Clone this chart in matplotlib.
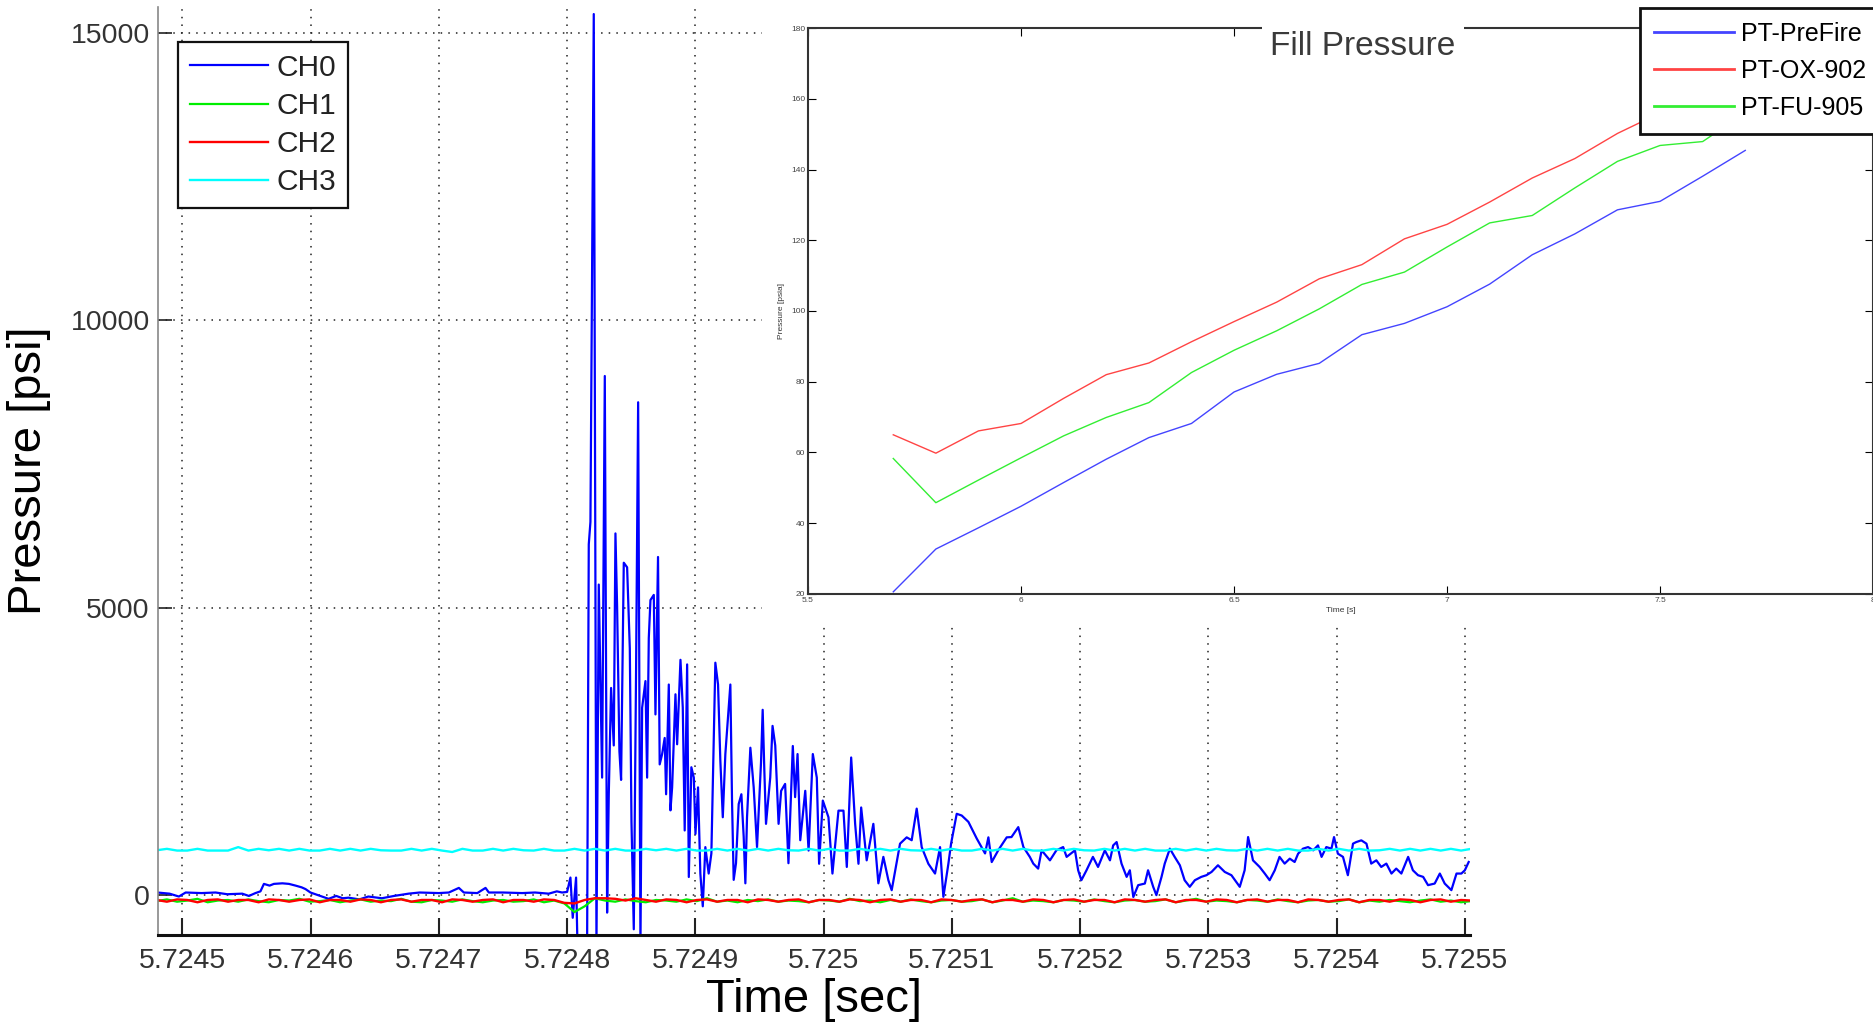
import matplotlib
matplotlib.use("Agg")
import matplotlib.pyplot as plt
from matplotlib.patches import Rectangle
import numpy as np

plt.rcParams['font.family'] = ['Liberation Sans', 'DejaVu Sans']

# ---- main plot: pressure transducer channels around the event ----
t_burst = 5.7248  # seconds, reference for the CH0 offsets below

# CH0 (microseconds after t_burst, psi)
ch0_samples = [
    (-325, 30), (-319.5, 40), (-310, 20), (-302.7, -30), (-297.4, 40), (-285, 30), (-274.1, 40),
    (-265, 10), (-253.3, 20), (-248.1, -20), (-243, 30), (-239.1, 60), (-236.4, 190), (-232, 160),
    (-228.6, 190), (-222, 200), (-216.9, 190), (-211.7, 160), (-207, 130), (-204.0, 100),
    (-200.1, 40), (-195, 0), (-186.0, -70), (-180, -20), (-175, -60), (-170.4, -50), (-162, -80),
    (-155, -30), (-144.4, -60), (-135, -20), (-123.6, 20), (-115, 40), (-100, 30), (-92.2, 40),
    (-84.4, 120), (-80.5, 40), (-70, 30), (-63.6, 120), (-61.0, 40), (-50, 40), (-35, 30),
    (-25, 40), (-14.3, 20), (-8, 60), (-3.9, 40),
    (0, 50), (2.6, 300), (4.4, -400), (7.0, 300), (8.1, -900), (15.6, -900), (16.9, 6100),
    (18.2, 6490), (19.5, 10960), (20.8, 15330), (22.9, -900), (24.7, 5400), (27.3, 2040),
    (29.4, 9030), (31.2, -310), (32.5, 1750), (34.3, 3600), (36.4, 2600), (37.7, 6290),
    (39.0, 5020), (40.8, 2500), (42.1, 2000), (44.2, 5780), (46.8, 5700), (48.9, 4290),
    (50.2, 1270), (52.0, -600), (53.8, 3950), (55.4, 8573), (57.2, -900), (58.5, 3255),
    (61.1, 3720), (62.4, 2040), (63.7, 4470), (65.0, 5130), (67.6, 5220), (68.9, 3140),
    (70.9, 5880), (72.2, 2270), (74.1, 2450), (76.1, 2730), (77.2, 1750), (79.3, 3660),
    (80.6, 1470), (81.9, 1870), (84.5, 3490), (85.8, 2620), (88.4, 4090), (90.2, 3260),
    (91.7, 1120), (93.6, 4010), (94.9, 310), (96.9, 2220), (98.8, 2040), (100.1, 1060),
    (102.1, 1870), (103.9, 370), (105.8, -200), (107.8, 830), (110.4, 370), (112.5, 720),
    (114.3, 2620), (115.6, 4040), (117.7, 3660), (119.5, 2330), (121.4, 1350), (123.4, 2450),
    (126.0, 3260), (127.3, 3660), (128.6, 1640), (129.9, 260), (131.7, 550), (133.8, 1580),
    (135.9, 1750), (137.7, 1010), (139.0, 200), (140.3, 1350), (142.9, 2560), (145.5, 1870),
    (148.1, 830), (151.2, 2300), (152.5, 3220), (153.8, 2160), (155.1, 1235), (158.4, 2040),
    (160.2, 2940), (162.3, 2600), (164.9, 1235), (166.9, 1810), (170.0, 1930), (172.6, 550),
    (176.0, 2590), (177.8, 1700), (179.7, 2450), (181.8, 950), (185.7, 1810), (188.3, 770),
    (191.6, 2450), (194.7, 2040), (196.5, 540), (199.4, 1640), (203.8, 1350), (206.9, 370),
    (211.6, 1465), (215.5, 1465), (218.1, 485), (221.5, 2390), (224.6, 1235), (227.2, 540),
    (229.3, 1520), (233.6, 600), (238.8, 1235), (242.7, 200), (246.6, 660), (250.5, 255),
    (253.1, 80), (259.6, 890), (264.8, 1000), (268.7, 950), (272.6, 1500), (276.5, 830),
    (281.7, 540), (286.9, 370), (290.8, 830), (293.4, -35), (297.3, 540), (299.4, 890),
    (303.8, 1410), (307.7, 1380), (312.9, 1270), (319.4, 980), (325.9, 720), (328.5, 1000),
    (331.1, 570), (336.3, 780), (342.8, 1000), (346.5, 1005), (351.8, 1178), (355.8, 831),
    (360.8, 660), (363.5, 543), (367.3, 456), (370.0, 774), (376.5, 600), (381.5, 774),
    (386.8, 831), (389.5, 660), (396.0, 774), (398.5, 427), (401.0, 254), (405.0, 427),
    (410.0, 660), (414.0, 485), (419.3, 774), (423.3, 600), (425.8, 860), (428.5, 918),
    (432.3, 543), (436.3, 312), (438.8, 427), (441.5, -38), (445.3, 168), (450.5, 196),
    (453.0, 427), (457.0, 139), (459.5, -6), (463.5, 312), (466.0, 543), (470.0, 803),
    (473.8, 658), (477.8, 514), (481.5, 254), (485.5, 139), (489.5, 254), (494.5, 312),
    (498.5, 341), (502.5, 398), (507.5, 514), (512.8, 398), (518.0, 341), (524.5, 139),
    (528.3, 427), (531.0, 1005), (534.8, 600), (540.0, 485), (544.0, 370), (547.8, 254),
    (551.8, 427), (555.5, 660), (559.5, 543), (563.5, 629), (567.3, 571), (570.0, 716),
    (573.8, 803), (577.8, 831), (581.8, 774), (585.5, 860), (588.3, 660), (592.0, 831),
    (596.0, 803), (598.0, 1005), (601.0, 716), (605.0, 660), (608.8, 341), (612.8, 890),
    (615.3, 918), (619.3, 948), (623.3, 890), (627.0, 543), (631.0, 600), (634.8, 485),
    (638.8, 543), (642.8, 370), (646.5, 456), (650.5, 370), (655.8, 660), (659.5, 427),
    (663.5, 341), (667.5, 312), (671.3, 168), (676.5, 196), (680.5, 370), (684.3, 196),
    (689.5, 81), (693.5, 370), (697.3, 370), (700.0, 427), (703.0, 571),
]

# CH1..CH3 are read as evenly spaced samples between these two times
noise_start = 5.72448
noise_end = 5.725505

ch1_psi = [
    -110, -80, -120, -100, -70, -130, -100, -90, -120, -80, -110, -130, -90, -100, -70, -120, -110, -90, -130, -100,
    -80, -120, -100, -110, -70, -120, -130, -90, -100, -120, -80, -110, -130, -100, -90, -120, -110, -80, -130, -100,
    -150, -300, -200, -60, -100, -120, -80, -110, -130, -90, -100, -120, -80, -110, -60, -120, -100, -130, -90, -110,
    -80, -120, -100, -110, -130, -90, -100, -120, -70, -110, -100, -130, -90, -120, -80, -110, -130, -100, -90, -120,
    -110, -80, -130, -100, -60, -120, -100, -110, -130, -90, -100, -120, -80, -110, -130, -100, -90, -120, -110, -80,
    -130, -100, -70, -120, -100, -110, -130, -90, -100, -120, -80, -110, -130, -100, -90, -120, -110, -80, -130, -100,
    -120, -90, -110, -130, -100, -80, -120, -100, -130, -110,
]
ch2_psi = [
    -90, -120, -80, -90, -130, -90, -80, -120, -90, -90, -130, -80, -90, -120, -90, -80, -130, -90, -90, -120,
    -80, -90, -130, -90, -80, -120, -90, -90, -130, -80, -90, -120, -90, -80, -130, -90, -90, -120, -80, -90,
    -140, -150, -90, -60, -60, -70, -100, -60, -90, -120, -80, -90, -130, -90, -80, -120, -90, -90, -130, -80,
    -90, -120, -90, -80, -130, -90, -90, -120, -80, -90, -130, -90, -80, -120, -90, -90, -130, -80, -90, -120,
    -90, -80, -130, -90, -90, -120, -80, -90, -130, -90, -80, -120, -90, -90, -130, -80, -90, -120, -90, -80,
    -130, -90, -90, -120, -80, -90, -130, -90, -80, -120, -90, -90, -130, -80, -90, -120, -90, -80, -130, -90,
    -90, -120, -80, -90, -130, -90, -80, -120, -90, -100,
]
ch3_psi = [
    775, 800, 770, 770, 800, 770, 770, 770, 830, 770, 800, 775, 800, 770, 800, 770, 770, 800, 770, 800,
    770, 800, 775, 770, 770, 800, 770, 800, 770, 745, 800, 770, 770, 800, 770, 800, 775, 770, 800, 770,
    770, 800, 770, 800, 770, 800, 770, 770, 800, 775, 800, 770, 800, 770, 770, 800, 770, 800, 770, 800,
    770, 800, 775, 770, 800, 770, 800, 770, 770, 800, 770, 800, 770, 800, 775, 770, 800, 770, 800, 770,
    770, 800, 770, 800, 770, 800, 770, 770, 800, 770, 800, 775, 770, 800, 770, 800, 770, 800, 770, 770,
    800, 770, 800, 770, 800, 775, 770, 800, 770, 800, 770, 800, 770, 770, 800, 770, 800, 770, 800, 770,
    775, 800, 770, 800, 770, 800, 770, 800, 770, 800,
]

main_xticks = [5.7245, 5.7246, 5.7247, 5.7248, 5.7249, 5.7250, 5.7251, 5.7252, 5.7253, 5.7254, 5.7255]
main_xlabels = ['5.7245', '5.7246', '5.7247', '5.7248', '5.7249', '5.725',
                '5.7251', '5.7252', '5.7253', '5.7254', '5.7255']
main_yticks = [0, 5000, 10000, 15000]

# ---- inset: fill pressure ----
fill_time = [5.7, 5.8, 5.9, 6.0, 6.1, 6.2, 6.3, 6.4, 6.5, 6.6, 6.7, 6.8, 6.9, 7.0, 7.1, 7.2, 7.3, 7.4, 7.5, 7.6, 7.7]
pt_prefire = [20.6, 32.7, 38.7, 44.8, 51.5, 58.1, 64.2, 68.2, 77.1, 82.1, 85.2, 93.3, 96.5, 101.2,
              107.6, 115.9, 121.8, 128.6, 131.0, 138.1, 145.4]
pt_ox_902 = [65.0, 59.8, 66.1, 68.2, 75.3, 82.0, 85.3, 91.3, 97.0, 102.5, 109.1, 113.1, 120.4, 124.5,
             130.8, 137.6, 143.1, 150.2, 156.0, 161.0, 167.0]
pt_fu_905 = [58.3, 45.8, 52.2, 58.5, 64.7, 69.9, 74.1, 82.6, 88.9, 94.4, 100.6, 107.5, 111.0, 118.1,
             124.9, 127.0, 134.8, 142.3, 146.8, 147.9, 156.0]

fig = plt.figure(figsize=(18.74, 10.23), dpi=100)

ax = fig.add_axes([0.0843, 0.086, 0.7001, 0.907])
ch0_us, ch0_val = zip(*ch0_samples)
ch0_t = t_burst + np.array(ch0_us) * 1e-6
noise_t = np.linspace(noise_start, noise_end, len(ch3_psi))

ax.plot(ch0_t, ch0_val, color='#0000ff', lw=1.6, label='CH0')
ax.plot(noise_t, ch1_psi, color='#00ee00', lw=1.6, label='CH1')
ax.plot(noise_t, ch2_psi, color='#ff0000', lw=1.7, label='CH2')
ax.plot(noise_t, ch3_psi, color='#00ffff', lw=1.7, label='CH3')

ax.set_xlim(5.724481, 5.725504)
ax.set_ylim(-700, 15450)
ax.set_xticks(main_xticks)
ax.set_xticklabels(main_xlabels)
ax.set_yticks(main_yticks)
ax.set_yticklabels([str(v) for v in main_yticks])
ax.tick_params(axis='both', direction='in', labelsize=20.5, labelcolor='#333333', color='#222222')
ax.tick_params(axis='x', length=12, width=1.5, pad=9)
ax.tick_params(axis='y', length=10, width=1.2, pad=6)
ax.grid(True, linestyle=(0, (1, 4)), color='#222222', lw=1.1)
ax.spines['top'].set_visible(False)
ax.spines['right'].set_visible(False)
ax.spines['left'].set_color('#888888')
ax.spines['left'].set_linewidth(1.2)
ax.spines['bottom'].set_color('#111111')
ax.spines['bottom'].set_linewidth(2.2)
ax.set_xlabel('Time [sec]', fontsize=34, labelpad=3)
ax.set_ylabel('Pressure [psi]', fontsize=34, labelpad=14)

leg = ax.legend(loc='upper left', bbox_to_anchor=(0.095, 0.959), bbox_transform=fig.transFigure,
                fontsize=21.5, handlelength=2.6, handletextpad=0.3, labelspacing=0.34,
                borderpad=0.4, borderaxespad=0, fancybox=False, framealpha=1)
leg.get_frame().set_edgecolor('#111111')
leg.get_frame().set_linewidth(1.6)
for text in leg.get_texts():
    text.set_color('#222222')

# white backing of the pasted inset picture
fig.patches.append(Rectangle((0.4066, 0.392), 0.6, 0.61, transform=fig.transFigure,
                             facecolor='white', edgecolor='none', zorder=1))

axi = fig.add_axes([0.4312, 0.4194, 0.5683, 0.5532])
axi.set_zorder(2)
axi.plot(fill_time, pt_prefire, color='#4444ff', lw=1.0, label='PT-PreFire')
axi.plot(fill_time, pt_ox_902, color='#ff4444', lw=1.0, label='PT-OX-902')
axi.plot(fill_time, pt_fu_905, color='#33ee33', lw=1.0, label='PT-FU-905')
axi.set_xlim(5.5, 8)
axi.set_ylim(20, 180)
axi.set_xticks([5.5, 6, 6.5, 7, 7.5, 8])
axi.set_xticklabels(['5.5', '6', '6.5', '7', '7.5', '8'])
axi.set_yticks([20, 40, 60, 80, 100, 120, 140, 160, 180])
axi.tick_params(axis='both', direction='in', labelsize=6, labelcolor='#444444', length=6,
                top=True, right=True, pad=2)
for side in axi.spines.values():
    side.set_color('#333333')
    side.set_linewidth(1.5)
axi.set_xlabel('Time [s]', fontsize=6, labelpad=2, color='#333333')
axi.set_ylabel('Pressure [psia]', fontsize=6, labelpad=4, color='#333333')

fig.text(0.7273, 0.955, 'Fill Pressure', fontsize=24, color='#3a3a3a', ha='center', va='center',
         zorder=5, bbox=dict(facecolor='white', edgecolor='none', pad=6))

leg2 = axi.legend(loc='upper left', bbox_to_anchor=(0.8751, 0.992), bbox_transform=fig.transFigure,
                  fontsize=18, handlelength=3.2, handletextpad=0.3, labelspacing=0.52,
                  borderpad=0.55, borderaxespad=0, fancybox=False, framealpha=1)
leg2.get_frame().set_edgecolor('#111111')
leg2.get_frame().set_linewidth(2)
for line in leg2.get_lines():
    line.set_linewidth(2)

fig.savefig('out.png', dpi=100)
